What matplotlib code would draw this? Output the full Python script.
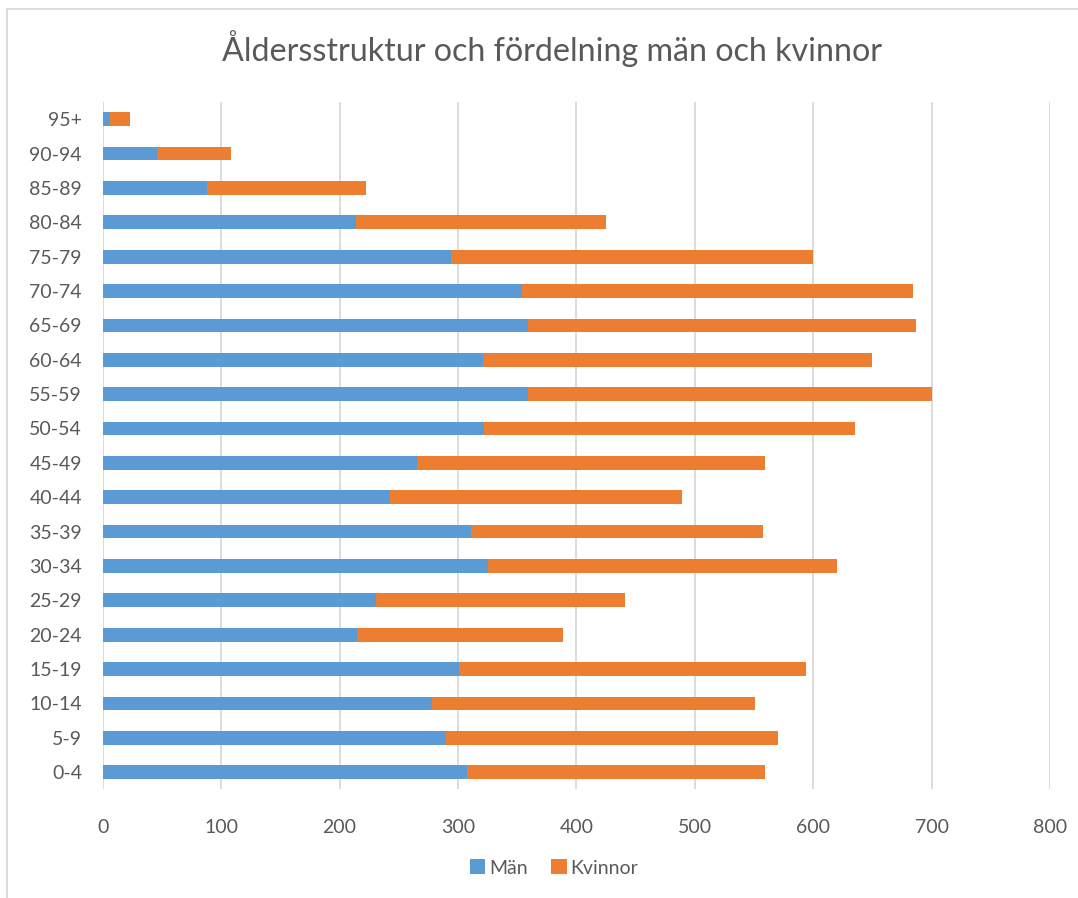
import matplotlib
matplotlib.use("Agg")
import matplotlib.pyplot as plt
from matplotlib.patches import Rectangle
import numpy as np

plt.rcParams['font.family'] = ['Lato', 'DejaVu Sans']

# age groups, bottom to top
ages = ['0-4', '5-9', '10-14', '15-19', '20-24', '25-29', '30-34', '35-39',
        '40-44', '45-49', '50-54', '55-59', '60-64', '65-69', '70-74',
        '75-79', '80-84', '85-89', '90-94', '95+']
man = [308, 290, 278, 301, 215, 231, 325, 311, 243, 265,
       322, 359, 321, 359, 354, 294, 214, 88, 46, 6]
kvinnor = [251, 280, 273, 293, 174, 210, 295, 247, 246, 294,
           313, 341, 329, 328, 330, 306, 211, 134, 62, 17]
xticks = [0, 100, 200, 300, 400, 500, 600, 700, 800]

blue = '#5B9BD5'
orange = '#ED7D31'
txt = '#595959'
grid = '#D9D9D9'

fig = plt.figure(figsize=(10.78, 8.98), dpi=100)
ax = fig.add_axes([0.0953, 0.121, 0.974 - 0.0953, 0.8864 - 0.121])

y = np.arange(len(ages))
ax.barh(y, man, height=0.4, color=blue, label='Män', zorder=3)
ax.barh(y, kvinnor, left=man, height=0.4, color=orange, label='Kvinnor', zorder=3)

ax.set_xlim(0, 800)
ax.set_ylim(-0.5, len(ages) - 0.5)
ax.set_xticks(xticks)
ax.set_yticks(y)
ax.set_yticklabels(ages)
ax.tick_params(axis='both', length=0, labelsize=14, labelcolor=txt)
ax.tick_params(axis='y', pad=15)
ax.tick_params(axis='x', pad=21)
ax.grid(axis='x', color=grid, linewidth=1.3, zorder=0)
for s in ax.spines.values():
    s.set_visible(False)

fig.text(0.5116, 0.9465, 'Åldersstruktur och fördelning män och kvinnor',
         ha='center', va='center', fontsize=23.2, color=txt)

leg = fig.legend(loc='center', bbox_to_anchor=(0.514, 0.0335), ncol=2,
                 frameon=False, fontsize=14, handlelength=0.8, handleheight=0.8,
                 handletextpad=0.2, columnspacing=1.2)
for t in leg.get_texts():
    t.set_color(txt)

fig.patches.append(Rectangle((7 / 1078, -0.1), 1.2, 1.1 - 9 / 898,
                             transform=fig.transFigure, fill=False,
                             edgecolor=grid, linewidth=1.3))

fig.savefig('out.png', dpi=100)
